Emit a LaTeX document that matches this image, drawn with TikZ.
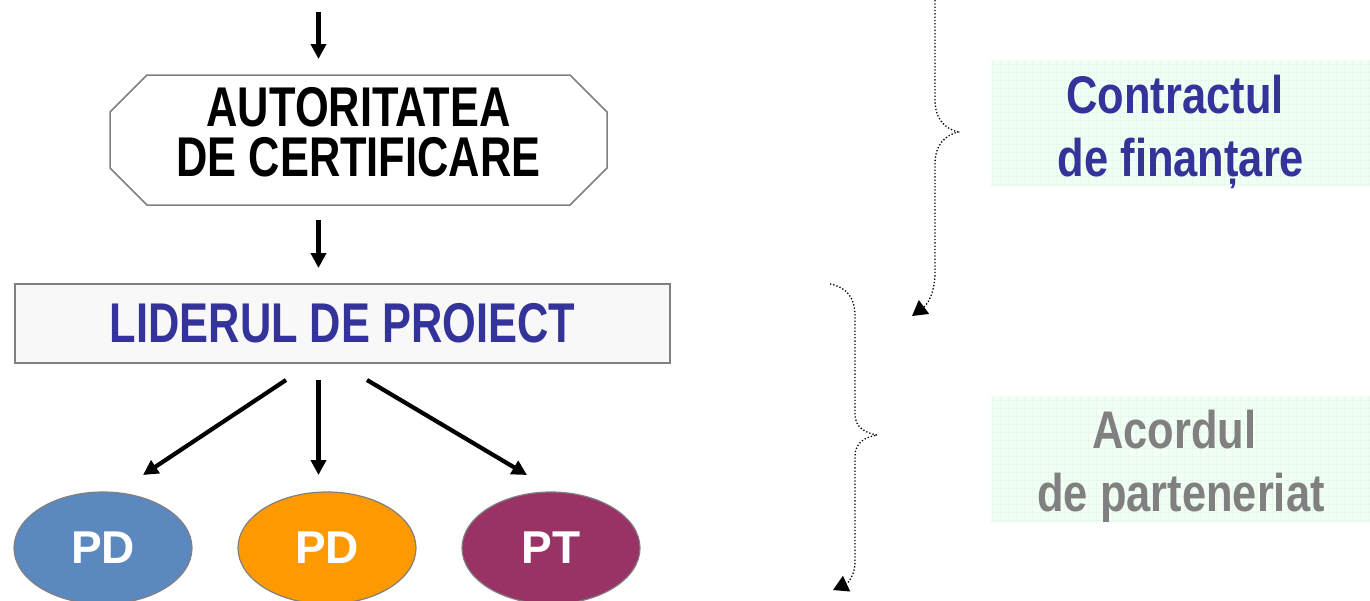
\documentclass[tikz,border=0pt]{standalone}
\usepackage{fontspec}
\newfontfamily\etroite[FakeStretch=0.775]{Liberation Sans}
\newfontfamily\moyenne[FakeStretch=0.82]{Liberation Sans}
\newfontfamily\pleine{Liberation Sans}
\usetikzlibrary{arrows.meta}
\usetikzlibrary{calc}
\usetikzlibrary{shapes.geometric}
\usepackage{xcolor}
\definecolor{bleuf}{HTML}{333399}
\definecolor{grisb}{HTML}{808080}
\definecolor{grisfond}{HTML}{F8F8F8}
\definecolor{bleupd}{HTML}{5B88BF}
\definecolor{orangepd}{HTML}{FF9900}
\definecolor{violetpt}{HTML}{993366}
\definecolor{vertpale}{HTML}{F2FFF5}
\definecolor{vertgrille}{HTML}{E8F8EC}

\begin{document}
\begin{tikzpicture}[x=1pt,y=-1pt,
    fleche/.style={line width=4.2pt,-{Triangle[length=15pt,width=15pt]}},
    pointille/.style={line width=1.3pt,dash pattern=on 1.3pt off 2pt,-{Triangle[length=15pt,width=17pt]}},
    titre/.style={font=\etroite\bfseries\fontsize{56pt}{50pt}\selectfont,align=center,inner sep=0pt},
    cadre/.style={minimum width=497pt,minimum height=130pt,inner sep=0pt,outer sep=0pt},
    boite/.style={titre,draw=grisb,fill=grisfond,line width=1.8pt,minimum width=655pt,minimum height=79pt,outer sep=0pt,text=bleuf},
    bulle/.style={ellipse,draw=grisb,line width=1.2pt,minimum width=178pt,minimum height=112pt,inner sep=0pt,outer sep=0pt,text=white,font=\pleine\bfseries\fontsize{46pt}{46pt}\selectfont},
    accord/.style={font=\moyenne\bfseries\fontsize{53pt}{63pt}\selectfont,align=center,inner sep=0pt}]
\useasboundingbox (0,0) rectangle (1370,600);
% fonds verts
\fill[vertpale] (991,60) rectangle (1370,187);
\draw[vertgrille,line width=0.4pt,step=8pt] (991,60) grid (1370,187);
\fill[vertpale] (991,396) rectangle (1370,523);
\draw[vertgrille,line width=0.4pt,step=8pt] (991,396) grid (1370,523);
% autorite
\node[cadre] (ac) at (358.5,140) {};
\draw[grisb,line width=1.5pt] ([xshift=37pt]ac.north west) -- ([xshift=-37pt]ac.north east)
    -- ([yshift=-37pt]ac.north east) -- ([yshift=37pt]ac.south east)
    -- ([xshift=-37pt]ac.south east) -- ([xshift=37pt]ac.south west)
    -- ([yshift=37pt]ac.south west) -- ([yshift=-37pt]ac.north west) -- cycle;
\node[titre] (act) at (358.5,132.7) {AUTORITATEA\\DE CERTIFICARE};
% leader et partenaires
\node[boite] (lp) at (342.5,323.5) {LIDERUL DE PROIECT};
\node[bulle,fill=bleupd] (pd1) at (103,548) {PD};
\node[bulle,fill=orangepd] (pd2) at (327,548) {PD};
\node[bulle,fill=violetpt] (pt) at (551,548) {PT};
% fleches
\coordinate (haut) at (318.5,12);
\draw[fleche] (haut) -- ($(ac.north -| haut)+(0,-16)$);
\draw[fleche] ($(ac.south -| haut)+(0,15)$) -- ($(lp.north -| haut)+(0,-16)$);
\draw[fleche] ($(lp.south)+(-56.5,17)$) -- ($(pd1.north)+(40,-17)$);
\draw[fleche] ($(lp.south -| haut)+(0,17)$) -- ($(pd2.north -| haut)+(0,-17)$);
\draw[fleche] ($(lp.south)+(24.5,17)$) -- ($(pt.north)+(-24,-17)$);
% accolades
\draw[pointille] (935,0) -- (935,100) .. controls (935,120) and (946,129) .. (958,132)
    .. controls (946,135) and (935,144) .. (935,164) -- (935,272)
    .. controls (935,292) and (928,304) .. (912,316);
\draw[pointille] (830,284) .. controls (846,287) and (855,297) .. (855,316) -- (855,414)
    .. controls (855,428) and (866,433) .. (877,435)
    .. controls (866,437) and (855,442) .. (855,456) -- (855,562)
    .. controls (855,575) and (848,583) .. (833,590);
% textes
\node[accord,text=bleuf] (cf) at (1181,132) {Contractul\hspace*{12pt}\\de finanțare};
\node[accord,text=grisb] (ap) at (1181,466) {Acordul\hspace*{13pt}\\de parteneriat};
\end{tikzpicture}
\end{document}
